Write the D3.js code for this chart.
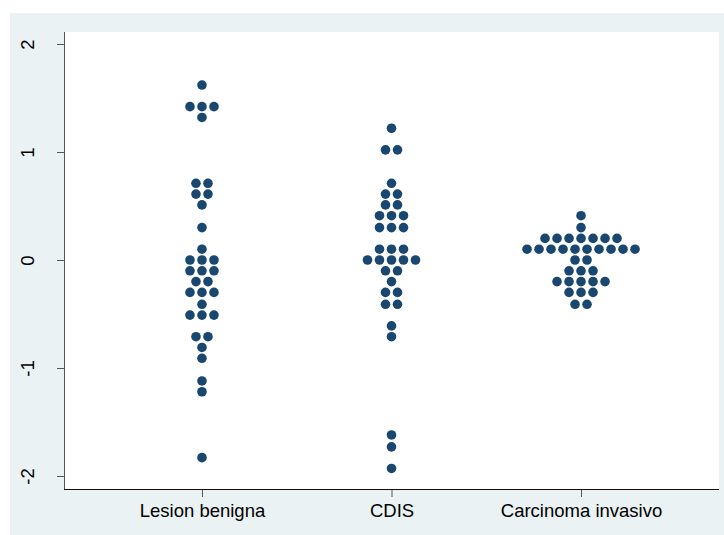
<!DOCTYPE html>
<html>
<head>
<meta charset="utf-8">
<script src="https://cdn.jsdelivr.net/npm/d3@7"></script>
<style>
    html, body { margin: 0; padding: 0; background: #fff; }
    svg { display: block; }
    text { font-family: "Liberation Sans", Arial, sans-serif; }
</style>
</head>
<body>
<div id="chart"></div>
<script>
'use strict';

const categories = ['Lesion benigna', 'CDIS', 'Carcinoma invasivo'];

// observed values, one entry per dot (already binned as in the dotplot)
const lesionValues = [
    1.62, 1.42, 1.42, 1.42, 1.32, 0.71, 0.71, 0.61, 0.61, 0.51, 0.30, 0.10,
    0, 0, 0, -0.10, -0.10, -0.10, -0.20, -0.20, -0.30, -0.30, -0.30, -0.41,
    -0.51, -0.51, -0.51, -0.71, -0.71, -0.81, -0.91, -1.12, -1.22, -1.83
];
const cdisValues = [
    1.22, 1.02, 1.02, 0.71, 0.61, 0.61, 0.51, 0.51, 0.41, 0.41, 0.41,
    0.30, 0.30, 0.30, 0.10, 0.10, 0.10, 0, 0, 0, 0, 0, -0.10, -0.10, -0.20,
    -0.30, -0.30, -0.41, -0.41, -0.61, -0.71, -1.62, -1.73, -1.93
];
const carcinomaValues = [
    0.41, 0.30, 0.20, 0.20, 0.20, 0.20, 0.20, 0.20, 0.20,
    0.10, 0.10, 0.10, 0.10, 0.10, 0.10, 0.10, 0.10, 0.10, 0.10,
    0, 0, -0.10, -0.10, -0.10, -0.20, -0.20, -0.20, -0.20, -0.20,
    -0.30, -0.30, -0.30, -0.41, -0.41
];
const yTicks = [-2, -1, 0, 1, 2];

const groups = [lesionValues, cdisValues, carcinomaValues];

const width = 724, height = 535;
const plot = {left: 64, right: 719, top: 32, bottom: 490};
const dotGap = 12, dotRadius = 4.8;
const navy = '#1a476f';
const labelSize = 18.5;

const svg = d3.select('#chart').append('svg')
    .attr('width', width)
    .attr('height', height);

svg.append('rect')
    .attr('x', 10).attr('y', 13)
    .attr('width', width - 10).attr('height', height - 13)
    .attr('fill', '#eaf2f3');

svg.append('rect')
    .attr('x', plot.left).attr('y', plot.top)
    .attr('width', plot.right - plot.left).attr('height', plot.bottom - plot.top)
    .attr('fill', '#fff');

const x = d3.scalePoint()
    .domain(categories)
    .range([plot.left, plot.right])
    .padding(0.728);

const y = d3.scaleLinear()
    .domain([-2, 2])
    .range([476, 44]);

// y axis
const yAxis = svg.append('g')
    .attr('transform', `translate(${plot.left},0)`)
    .call(d3.axisLeft(y).tickValues(yTicks).tickSize(7).tickSizeOuter(0).tickFormat(d3.format('d')));
yAxis.select('.domain').remove();
yAxis.append('line')
    .attr('x1', 0.5).attr('x2', 0.5)
    .attr('y1', plot.top).attr('y2', plot.bottom)
    .attr('stroke', '#555');
yAxis.selectAll('.tick line').attr('stroke', '#555');
yAxis.selectAll('.tick text')
    .attr('font-size', labelSize)
    .attr('fill', '#000')
    .attr('transform', 'rotate(-90)')
    .attr('x', 0).attr('y', -30)
    .attr('dy', 0)
    .attr('text-anchor', 'middle')
    .text(d => d < 0 ? '-' + Math.abs(d) : d);

// x axis
const xAxis = svg.append('g')
    .attr('transform', `translate(0,${plot.bottom})`)
    .call(d3.axisBottom(x).tickSize(7).tickSizeOuter(0));
xAxis.select('.domain').remove();
xAxis.append('line')
    .attr('x1', plot.left).attr('x2', plot.right)
    .attr('y1', -0.5).attr('y2', -0.5)
    .attr('stroke', '#111');
xAxis.selectAll('.tick line').attr('stroke', '#555');
xAxis.selectAll('.tick text')
    .attr('font-size', labelSize)
    .attr('fill', '#000')
    .attr('y', 27)
    .attr('dy', 0);

// dots: stack equal values side by side, centred on the category
const dots = [];
groups.forEach((values, gi) => {
    d3.group(values, v => v).forEach((row, value) => {
        row.forEach((v, i) => {
            dots.push({cat: categories[gi], value: value, offset: (i - (row.length - 1) / 2) * dotGap});
        });
    });
});

svg.append('g').selectAll('circle')
    .data(dots)
    .join('circle')
    .attr('cx', d => x(d.cat) + d.offset)
    .attr('cy', d => y(d.value))
    .attr('r', dotRadius)
    .attr('fill', navy);
</script>
</body>
</html>
